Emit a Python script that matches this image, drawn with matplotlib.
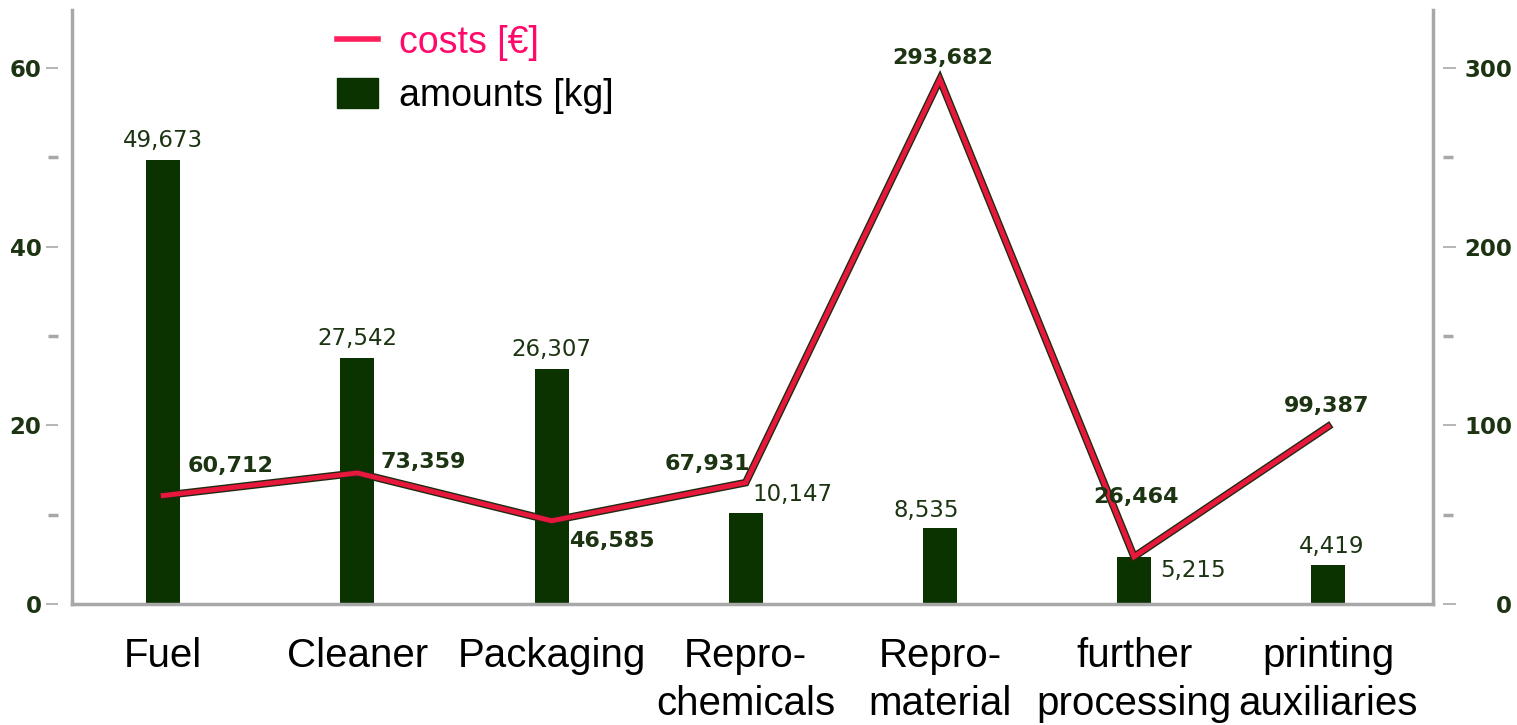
import matplotlib.pyplot as plt
import numpy as np
from matplotlib import patheffects as pe
from matplotlib.lines import Line2D
from matplotlib.patches import Patch

# data
categories = ["Fuel", "Cleaner", "Packaging", "Repro-\nchemicals", "Repro-\nmaterial",
              "further\nprocessing", "printing\nauxiliaries"]
amounts = [49.673, 27.542, 26.307, 10.147, 8.535, 5.215, 4.419]   # kg
costs = [60.712, 73.359, 46.585, 67.931, 293.682, 26.464, 99.387]  # EUR

# label placement (pixel offsets + alignment)
amount_lbl = [(0, 8, "center", "bottom"), (0, 8, "center", "bottom"), (0, 8, "center", "bottom"),
              (7, 7, "left", "bottom"), (-14, 6, "center", "bottom"), (26, -13, "left", "center"),
              (3, 7, "center", "bottom")]
cost_lbl = [(24, 30, "left", "center"), (23, 11, "left", "center"), (18, -20, "left", "center"),
            (5, 19, "right", "center"), (3, 11, "center", "bottom"), (2, 60, "center", "center"),
            (-2, 10, "center", "bottom")]

bar_col = "#0a3300"
line_col = "#e8183c"
txt_col = "#1c3412"
grey = "#a8a8a8"

def fmt(v):
    return f"{v:.3f}".replace(".", ",")

fig = plt.figure(figsize=(15.17, 7.25), dpi=100)
ax = fig.add_axes([72 / 1517, 1 - 604 / 725, (1433 - 72) / 1517, 594 / 725])
ax2 = ax.twinx()

x = np.arange(len(categories))
ax.bar(x, amounts, width=0.175, color=bar_col, zorder=2)
ln, = ax2.plot(x, costs, color=line_col, lw=3.5, solid_joinstyle="miter", zorder=3)
ln.set_path_effects([pe.Stroke(linewidth=5.5, foreground="#1f2a12"), pe.Normal()])

xmin, xmax = -0.47, 6.54
ax.set_xlim(xmin, xmax)
ax.set_ylim(0, 66.5)
ax2.set_ylim(0, 332.5)

# value labels
for i, v in enumerate(amounts):
    dx, dy, ha, va = amount_lbl[i]
    ax.annotate(fmt(v), (x[i], v), xytext=(dx, dy), textcoords="offset pixels",
                ha=ha, va=va, fontsize=16.5, color=txt_col, family="DejaVu Sans", zorder=5)
for i, v in enumerate(costs):
    dx, dy, ha, va = cost_lbl[i]
    ax2.annotate(fmt(v), (x[i], v), xytext=(dx, dy), textcoords="offset pixels",
                 ha=ha, va=va, fontsize=16, color=txt_col, family="DejaVu Sans",
                 fontweight="bold", zorder=5)

# spines
for s in ["top", "right"]:
    ax.spines[s].set_visible(False)
for s in ["top", "left", "bottom"]:
    ax2.spines[s].set_visible(False)
ax.spines["left"].set_position(("outward", 10))
ax.spines["left"].set_visible(False)
ax2.spines["right"].set_position(("outward", 7))
ax2.spines["right"].set_visible(False)
ax.spines["bottom"].set_color(grey)
ax.spines["bottom"].set_linewidth(2.5)
ax.axvline(xmin, color=grey, lw=2.5, clip_on=False, zorder=1)
ax.axvline(xmax, color=grey, lw=2.5, clip_on=False, zorder=1)

# y ticks
ax.set_yticks([0, 20, 40, 60])
ax.set_yticks([10, 30, 50], minor=True)
ax2.set_yticks([0, 100, 200, 300])
ax2.set_yticks([50, 150, 250], minor=True)
for a in (ax, ax2):
    a.tick_params(axis="y", which="major", length=9, width=1.2, color=grey,
                  labelsize=16.5, labelcolor=txt_col)
    a.tick_params(axis="y", which="minor", length=7, width=2.5, color=grey)
ax.tick_params(axis="y", pad=3)
ax2.tick_params(axis="y", pad=41)
for lbl in ax.get_yticklabels() + ax2.get_yticklabels():
    lbl.set_fontweight("bold")
for lbl in ax2.get_yticklabels():
    lbl.set_horizontalalignment("right")

# x ticks
ax.set_xticks(x, categories)
ax.tick_params(axis="x", length=0, pad=24)
for lbl in ax.get_xticklabels():
    lbl.set_fontfamily("Liberation Sans")
    lbl.set_fontsize(29)
    lbl.set_color("black")
    lbl.set_linespacing(1.33)

# legend
handles = [Line2D([0], [0], color="#ff1e5a", lw=4),
           Patch(facecolor=bar_col, edgecolor=bar_col)]
leg = ax2.legend(handles, ["costs [€]", "amounts [kg]"], loc="upper left",
                 bbox_to_anchor=(318 / 1517, 1 - 6 / 725), bbox_transform=fig.transFigure,
                 frameon=False, prop={"family": "Liberation Sans", "size": 27},
                 labelcolor=["#ff0a6a", "black"], handlelength=1.1, handleheight=0.85,
                 handletextpad=0.55, labelspacing=0.45, borderpad=0)

fig.savefig("out.png", dpi=100)
